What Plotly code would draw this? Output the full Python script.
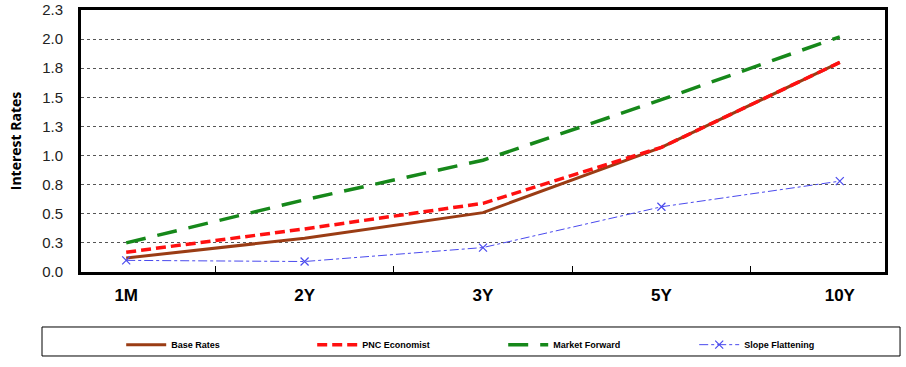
import plotly.graph_objects as go

categories = ["1M", "2Y", "3Y", "5Y", "10Y"]
base_rates = [0.12, 0.29, 0.51, 1.07, 1.80]
pnc_economist = [0.17, 0.37, 0.59, 1.07, 1.80]
market_forward = [0.25, 0.62, 0.96, 1.48, 2.02]
slope_flattening = [0.10, 0.09, 0.21, 0.56, 0.78]

y_tickvals = [0, 0.25, 0.5, 0.75, 1.0, 1.25, 1.5, 1.75, 2.0, 2.25]
y_ticktext = ["0.0", "0.3", "0.5", "0.8", "1.0", "1.3", "1.5", "1.8", "2.0", "2.3"]

fig = go.Figure()
fig.add_trace(go.Scatter(x=categories, y=base_rates, name="Base Rates", mode="lines",
                         line=dict(color="#9A3C14", width=3)))
fig.add_trace(go.Scatter(x=categories, y=pnc_economist, name="PNC Economist", mode="lines",
                         line=dict(color="#FF1010", width=3.5, dash="10px,5px")))
fig.add_trace(go.Scatter(x=categories, y=market_forward, name="Market Forward", mode="lines",
                         line=dict(color="#16881A", width=3.5, dash="20px,12px")))
fig.add_trace(go.Scatter(x=categories, y=slope_flattening, name="Slope Flattening", mode="lines+markers",
                         line=dict(color="#4A4AEE", width=1, dash="dashdot"),
                         marker=dict(symbol="x-thin", size=8, line=dict(color="#4A4AEE", width=1.2))))

fig.update_layout(
    width=906, height=367,
    margin=dict(l=81, r=21, t=10, b=95, autoexpand=False),
    paper_bgcolor="white", plot_bgcolor="white",
    font=dict(family="Liberation Sans, Arial, sans-serif", color="#000"),
    showlegend=True,
    legend=dict(orientation="h", x=0.05, xanchor="left", y=-0.222, yanchor="top",
                font=dict(size=9, family="Liberation Sans, Arial", color="#000", weight="bold"),
                entrywidth=136, itemwidth=40, bgcolor="rgba(0,0,0,0)", borderwidth=0),
    shapes=[dict(type="rect", xref="paper", yref="paper", x0=-0.0485, x1=1.0187, y0=-0.3206, y1=-0.2099,
                 line=dict(color="black", width=1), fillcolor="rgba(0,0,0,0)")],
)
fig.update_xaxes(type="category", showline=True, linecolor="black", linewidth=3, mirror=True,
                 ticks="inside", tickson="boundaries", ticklen=6, tickcolor="black", tickwidth=1,
                 showgrid=False, automargin=False, ticklabelstandoff=6,
                 tickfont=dict(size=17, family="Liberation Sans, Arial", color="#000", weight="bold"))
fig.update_yaxes(range=[0, 2.25], tickvals=y_tickvals, ticktext=y_ticktext,
                 showline=True, linecolor="black", linewidth=3, mirror=True,
                 showgrid=True, gridcolor="#555", griddash="dot", gridwidth=1,
                 ticks="", zeroline=False, automargin=False, ticklabelstandoff=12,
                 tickfont=dict(size=15, family="Liberation Sans, Arial", color="#222"),
                 title=dict(text="Interest Rates", font=dict(size=14, family="Open Sans, sans-serif", weight="bold"),
                            standoff=18))

fig.write_html("out.html", config={"displayModeBar": False},
               post_script="document.body.style.margin='0';document.body.style.overflow='hidden';")
